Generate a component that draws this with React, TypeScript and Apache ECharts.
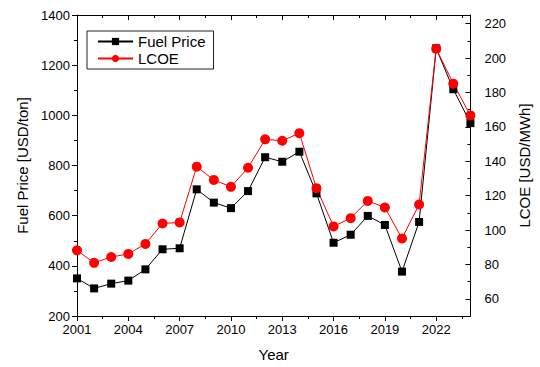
import React, { useEffect, useRef } from "react";
import * as echarts from "echarts";

const years = [2001, 2002, 2003, 2004, 2005, 2006, 2007, 2008, 2009, 2010, 2011, 2012, 2013, 2014, 2015, 2016, 2017, 2018, 2019, 2020, 2021, 2022, 2023, 2024];
const fuelPrice = [350, 310, 329, 341, 386, 466, 470, 705, 652, 630, 698, 833, 815, 855, 689, 492, 524, 599, 563, 377, 575, 1267, 1104, 969];
const lcoe = [88.2, 80.9, 84.3, 86.1, 91.9, 103.8, 104.4, 136.8, 129.1, 125.1, 136.2, 152.7, 151.9, 156.3, 124.3, 102.1, 106.9, 116.9, 113.1, 95.1, 114.8, 205.4, 185.1, 166.6];
const xMajorTicks = [2001, 2004, 2007, 2010, 2013, 2016, 2019, 2022];
const xMinorTicks = [2002.5, 2005.5, 2008.5, 2011.5, 2014.5, 2017.5, 2020.5, 2023.5];
const rightMajorTicks = [60, 80, 100, 120, 140, 160, 180, 200, 220];
const rightMinorTicks = [70, 90, 110, 130, 150, 170, 190, 210];

const FONT = "'Liberation Sans', Arial, sans-serif";

export default function App() {
  const ref = useRef<HTMLDivElement>(null);
  useEffect(() => {
    if (!ref.current) return;
    const chart = echarts.init(ref.current, undefined, { renderer: "svg" });
    const lineStyle = { color: "#000", width: 1 };
    const xCommon = {
      type: "value" as const,
      min: 2001,
      max: 2024,
      splitLine: { show: false },
      axisLine: { show: true, lineStyle },
    };
    chart.setOption({
      animation: false,
      backgroundColor: "#fff",
      textStyle: { fontFamily: FONT },
      grid: { left: 77, right: 55, top: 15, bottom: 51, containLabel: false },
      legend: {
        orient: "vertical",
        left: 87,
        top: 31,
        borderColor: "#222",
        borderWidth: 1,
        padding: [3, 8, 3, 10],
        itemWidth: 35,
        itemHeight: 9,
        itemGap: 2,
        textStyle: { fontSize: 15, fontFamily: FONT, color: "#000" },
        data: ["Fuel Price", "LCOE"],
      },
      xAxis: [
        {
          ...xCommon,
          position: "bottom",
          name: "Year",
          nameLocation: "middle",
          nameGap: 31,
          nameTextStyle: { fontSize: 15, fontFamily: FONT, color: "#000" },
          axisTick: { show: true, inside: false, length: 5, lineStyle, customValues: xMajorTicks },
          axisLabel: { show: true, margin: 7, fontSize: 13, fontFamily: FONT, color: "#000", customValues: xMajorTicks, formatter: (v: number) => String(v) },
        },
        {
          ...xCommon,
          position: "bottom",
          axisTick: { show: true, inside: false, length: 3, lineStyle, customValues: xMinorTicks },
          axisLabel: { show: false, customValues: xMinorTicks },
        },
        {
          ...xCommon,
          position: "top",
          axisTick: { show: true, inside: true, length: 5, lineStyle, customValues: xMajorTicks },
          axisLabel: { show: false, customValues: xMajorTicks },
        },
        {
          ...xCommon,
          position: "top",
          axisTick: { show: true, inside: true, length: 3, lineStyle, customValues: xMinorTicks },
          axisLabel: { show: false, customValues: xMinorTicks },
        },
      ],
      yAxis: [
        {
          type: "value",
          position: "left",
          min: 200,
          max: 1400,
          interval: 200,
          name: "Fuel Price [USD/ton]",
          nameLocation: "middle",
          nameGap: 45,
          nameTextStyle: { fontSize: 15, fontFamily: FONT, color: "#000" },
          splitLine: { show: false },
          axisLine: { show: true, lineStyle },
          axisTick: { show: true, inside: false, length: 5, lineStyle },
          minorTick: { show: true, splitNumber: 2, length: 3, lineStyle },
          axisLabel: { margin: 7, fontSize: 13, fontFamily: FONT, color: "#000", formatter: (v: number) => String(v) },
        },
        {
          type: "value",
          position: "right",
          min: 50,
          max: 225,
          name: "LCOE [USD/MWh]",
          nameLocation: "middle",
          nameGap: 32,
          nameTextStyle: { fontSize: 15, fontFamily: FONT, color: "#000" },
          splitLine: { show: false },
          axisLine: { show: true, lineStyle },
          axisTick: { show: true, inside: true, length: 5, lineStyle, customValues: rightMajorTicks },
          axisLabel: { margin: 14, fontSize: 13, fontFamily: FONT, color: "#000", customValues: rightMajorTicks, formatter: (v: number) => String(v) },
        },
        {
          type: "value",
          position: "right",
          min: 50,
          max: 225,
          splitLine: { show: false },
          axisLine: { show: false },
          axisTick: { show: true, inside: true, length: 3, lineStyle, customValues: rightMinorTicks },
          axisLabel: { show: false, customValues: rightMinorTicks },
        },
      ],
      series: [
        {
          name: "Fuel Price",
          type: "line",
          xAxisIndex: 0,
          yAxisIndex: 0,
          data: years.map((y, i) => [y, fuelPrice[i]]),
          symbol: "rect",
          symbolSize: 8,
          color: "#000",
          itemStyle: { color: "#000" },
          lineStyle: { color: "#000", width: 1 },
          clip: false,
        },
        {
          name: "LCOE",
          type: "line",
          xAxisIndex: 0,
          yAxisIndex: 1,
          data: years.map((y, i) => [y, lcoe[i]]),
          symbol: "circle",
          symbolSize: 10,
          color: "#ff0000",
          itemStyle: { color: "#ff0000" },
          lineStyle: { color: "#ff0000", width: 1 },
          clip: false,
        },
      ],
    });
    return () => chart.dispose();
  }, []);
  return <div ref={ref} style={{ position: "absolute", left: 0, top: 0, width: 540, height: 367 }} />;
}
